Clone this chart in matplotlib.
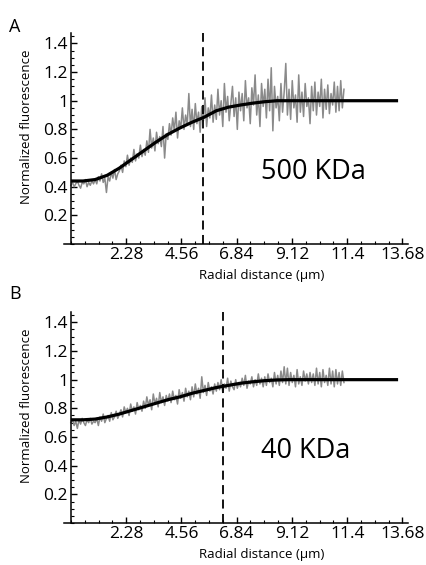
import numpy as np
import matplotlib
matplotlib.use('Agg')
import matplotlib.pyplot as plt
from matplotlib.ticker import MultipleLocator, FixedLocator

plt.rcParams['font.family'] = ['Open Sans', 'DejaVu Sans']

# fitted curves (black), read every 0.5 um
fit_x = [0, 0.5, 1.0, 1.5, 2.0, 2.5, 3.0, 3.5, 4.0, 4.5, 5.0, 5.5, 6.0, 6.5, 7.0,
         7.5, 8.0, 8.5, 9.0, 9.5, 10.0, 10.5, 11.0, 11.5, 12.0, 12.5, 13.0, 13.5]
fit_a = [0.44, 0.44, 0.45, 0.48, 0.53, 0.59, 0.65, 0.71, 0.765, 0.81, 0.85, 0.885, 0.93, 0.955,
         0.97, 0.983, 0.993, 1.0, 1.0, 1.0, 1.0, 1.0, 1.0, 1.0, 1.0, 1.0, 1.0, 1.0]
fit_b = [0.72, 0.72, 0.725, 0.74, 0.76, 0.785, 0.81, 0.835, 0.86, 0.88, 0.905, 0.925, 0.945, 0.96,
         0.975, 0.985, 0.993, 0.998, 1.0, 1.0, 1.0, 1.0, 1.0, 1.0, 1.0, 1.0, 1.0, 1.0]

# measured profiles (grey), 15 samples per um
meas_a = [
    0.41, 0.43, 0.40, 0.42, 0.44, 0.41, 0.39, 0.43, 0.42, 0.45, 0.40, 0.43, 0.41, 0.44, 0.42,
    0.45, 0.42, 0.47, 0.44, 0.49, 0.43, 0.46, 0.36, 0.47, 0.44, 0.50, 0.46, 0.52, 0.45, 0.49,
    0.51, 0.55, 0.50, 0.58, 0.54, 0.62, 0.55, 0.60, 0.57, 0.66, 0.58, 0.63, 0.60, 0.69, 0.61,
    0.66, 0.62, 0.72, 0.64, 0.80, 0.67, 0.74, 0.65, 0.78, 0.70, 0.75, 0.68, 0.82, 0.60, 0.77,
    0.73, 0.84, 0.76, 0.88, 0.79, 0.92, 0.74, 0.86, 0.81, 0.95, 0.80, 0.90, 0.83, 1.05, 0.82,
    0.94, 0.80, 0.98, 0.84, 0.92, 0.78, 0.96, 0.86, 1.02, 0.82, 0.95, 0.88, 1.04, 0.85, 0.97,
    0.87, 1.08, 0.90, 1.00, 0.82, 1.12, 0.92, 1.03, 0.86, 0.98, 1.10, 0.89, 1.02, 0.80, 1.06,
    0.93, 1.05, 0.86, 1.14, 0.95, 1.02, 0.84, 1.09, 0.97, 1.18, 0.90, 1.04, 0.82, 1.12, 0.96,
    1.08, 0.88, 1.15, 0.93, 1.23, 0.79, 1.10, 0.95, 1.03, 0.86, 1.12, 0.92, 1.06, 1.26, 0.90,
    1.08, 0.87, 1.14, 0.95, 1.04, 0.85, 1.18, 0.92, 1.06, 0.89, 1.12, 0.96, 1.02, 0.84, 1.10,
    0.93, 1.13, 0.90, 1.06, 0.96, 1.15, 0.88, 1.08, 0.94, 1.11, 0.91, 1.05, 0.97, 1.13, 0.92,
    1.10, 0.93, 1.14, 0.95, 1.08,
]
meas_b = [
    0.70, 0.72, 0.68, 0.71, 0.66, 0.72, 0.69, 0.73, 0.70, 0.68, 0.72, 0.70, 0.73, 0.69, 0.71,
    0.70, 0.73, 0.68, 0.74, 0.71, 0.76, 0.70, 0.73, 0.75, 0.71, 0.77, 0.72, 0.74, 0.78, 0.73,
    0.76, 0.79, 0.74, 0.81, 0.77, 0.80, 0.75, 0.83, 0.78, 0.81, 0.76, 0.84, 0.79, 0.82, 0.78,
    0.85, 0.80, 0.88, 0.82, 0.86, 0.79, 0.90, 0.83, 0.87, 0.81, 0.91, 0.84, 0.88, 0.82, 0.89,
    0.85, 0.90, 0.84, 0.92, 0.86, 0.89, 0.83, 0.93, 0.87, 0.91, 0.85, 0.94, 0.88, 0.92, 0.86,
    0.95, 0.88, 0.97, 0.90, 0.94, 0.87, 1.02, 0.91, 0.96, 0.89, 0.98, 0.92, 0.95, 0.90, 0.97,
    0.92, 0.98, 0.93, 1.00, 0.91, 0.97, 0.94, 1.01, 0.92, 0.99, 0.95, 0.93, 1.00, 0.94, 0.98,
    0.95, 1.01, 0.96, 1.03, 0.94, 0.99, 0.97, 1.02, 0.95, 1.00, 0.96, 1.04, 0.97, 1.01, 0.95,
    1.02, 0.96, 1.04, 0.98, 1.01, 0.95, 1.05, 0.97, 1.03, 0.96, 1.06, 0.98, 1.09, 0.97, 1.08,
    0.96, 1.05, 0.98, 1.03, 0.95, 1.07, 0.97, 1.02, 0.96, 1.06, 0.99, 1.04, 0.97, 1.05, 0.98,
    1.04, 0.96, 1.08, 0.97, 1.05, 0.95, 1.07, 0.98, 1.03, 0.96, 1.08, 0.97, 1.06, 0.95, 1.07,
    0.97, 1.05, 0.96, 1.06, 0.98,
]

x_ticks = [2.28, 4.56, 6.84, 9.12, 11.4, 13.68]
x_ticklabels = ['2.28', '4.56', '6.84', '9.12', '11.4', '13.68']
y_ticks = [0.2, 0.4, 0.6, 0.8, 1.0, 1.2, 1.4]
y_ticklabels = ['0.2', '0.4', '0.6', '0.8', '1', '1.2', '1.4']

panels = [
    ('A', meas_a, fit_a, 5.44, '500 KDa'),
    ('B', meas_b, fit_b, 6.26, '40 KDa'),
]

fig = plt.figure(figsize=(4.27, 5.65), dpi=100)
boxes = [[0.149, 0.568, 0.806, 0.373], [0.149, 0.0743, 0.806, 0.373]]
letter_y = [0.968, 0.495]

for (letter, meas, fit, cut, label), box, ly in zip(panels, boxes, letter_y):
    ax = fig.add_axes(box)
    mx = np.arange(len(meas)) / 15.0
    ax.plot(mx, meas, color='#8a8a8a', lw=1.1)
    ax.plot(fit_x, fit, color='black', lw=2.3, solid_capstyle='butt')
    ax.axvline(cut, color='black', lw=1.3, linestyle=(0, (5, 3)), clip_on=False)
    ax.text(7.85, 0.5, label, fontsize=19.5, ha='left', va='center')

    ax.set_xlim(-0.3, 13.9)
    ax.set_ylim(0, 1.47)
    ax.spines['top'].set_visible(False)
    ax.spines['right'].set_visible(False)
    ax.spines['left'].set_position(('data', 0))
    for s in ('left', 'bottom'):
        ax.spines[s].set_linewidth(1.1)

    ax.xaxis.set_major_locator(FixedLocator(x_ticks))
    ax.set_xticklabels(x_ticklabels)
    ax.xaxis.set_minor_locator(MultipleLocator(0.57))
    ax.yaxis.set_major_locator(FixedLocator(y_ticks))
    ax.set_yticklabels(y_ticklabels)
    ax.yaxis.set_minor_locator(MultipleLocator(0.05))
    ax.tick_params(which='major', direction='in', length=4.5, width=1.0, labelsize=12.5, pad=2)
    ax.tick_params(which='minor', direction='in', length=2.5, width=0.8)

    ax.set_xlabel('Radial distance (µm)', fontsize=9.5)
    ax.xaxis.set_label_coords(0.575, -0.12)
    ax.set_ylabel('Normalized fluorescence', fontsize=9.5)
    ax.yaxis.set_label_coords(-0.088, 0.555)

    fig.text(0.022, ly, letter, fontsize=13, ha='left', va='top')

fig.savefig('out.png', dpi=100)
